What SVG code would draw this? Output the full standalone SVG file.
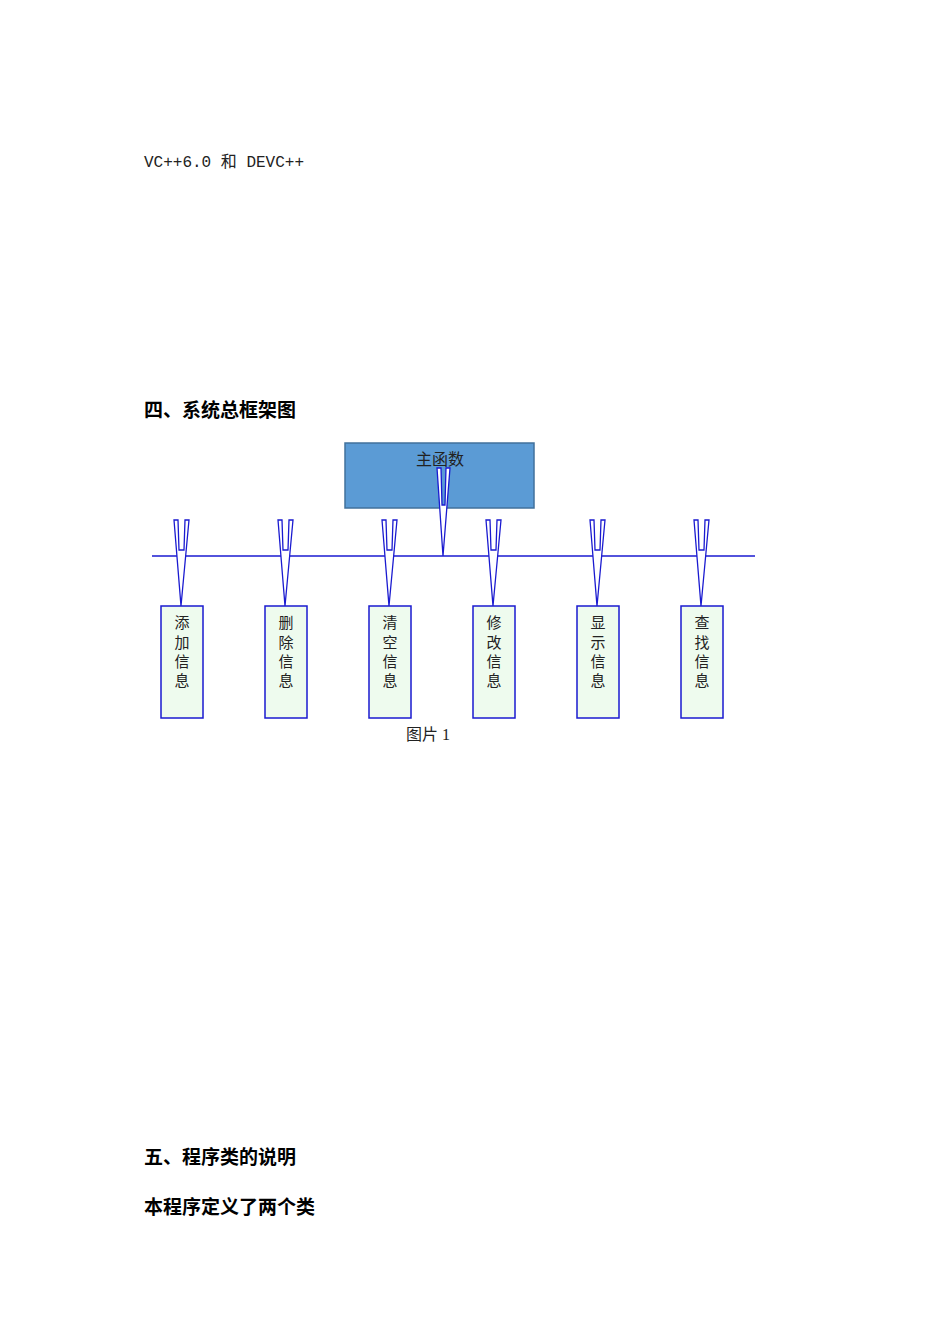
<svg xmlns="http://www.w3.org/2000/svg" width="950" height="1344" viewBox="0 0 950 1344">
<style>
.t{font-family:"Liberation Serif","Noto Sans CJK SC",serif;font-size:16px;fill:#222}
.h{font-family:"Noto Sans CJK SC",sans-serif;font-size:19px;font-weight:bold;fill:#000}
.b{fill:#eefbee;stroke:#1a1ad0;stroke-width:1.5}
.a{fill:#fff;stroke:#1a1ad0;stroke-width:1.3}
.v{font-family:"Noto Sans CJK SC",serif;font-size:15px;fill:#222;text-anchor:middle}
</style>
<rect width="950" height="1344" fill="#fff"/>
<text class="t" x="144" y="167" style="font-family:'Liberation Mono','Noto Sans CJK SC',monospace;font-size:16px">VC++6.0 和 DEVC++</text>
<text class="h" x="144" y="417">四、系统总框架图</text>
<text class="h" x="144" y="1164">五、程序类的说明</text>
<text class="h" x="144" y="1214">本程序定义了两个类</text>
<g id="main"><rect x="345" y="443" width="189" height="65" fill="#5b9bd5" stroke="#41719c" stroke-width="1.5"/><text class="v" x="440" y="465" style="font-size:16px">主函数</text></g>
<g id="connectors">
<line x1="152" y1="556" x2="755" y2="556" stroke="#1a1ad0" stroke-width="1.3"/>
<polygon class="a" points="437,468 441,468 442,505 445,505 446,468 450,468 443,556"/>
<polygon class="a" points="174,520 178,520 179,550 184,550 185,520 189,520 181,606"/>
<polygon class="a" points="278,520 282,520 283,550 288,550 289,520 293,520 285,606"/>
<polygon class="a" points="382,520 386,520 387,550 392,550 393,520 397,520 389,606"/>
<polygon class="a" points="486,520 490,520 491,550 496,550 497,520 501,520 493,606"/>
<polygon class="a" points="590,520 594,520 595,550 600,550 601,520 605,520 597,606"/>
<polygon class="a" points="694,520 698,520 699,550 704,550 705,520 709,520 701,606"/>
</g>
<g id="n1"><rect class="b" x="161" y="606" width="42" height="112"/><text class="v" x="182" y="628">添</text><text class="v" x="182" y="648">加</text><text class="v" x="182" y="667">信</text><text class="v" x="182" y="686">息</text></g>
<g id="n2"><rect class="b" x="265" y="606" width="42" height="112"/><text class="v" x="286" y="628">删</text><text class="v" x="286" y="648">除</text><text class="v" x="286" y="667">信</text><text class="v" x="286" y="686">息</text></g>
<g id="n3"><rect class="b" x="369" y="606" width="42" height="112"/><text class="v" x="390" y="628">清</text><text class="v" x="390" y="648">空</text><text class="v" x="390" y="667">信</text><text class="v" x="390" y="686">息</text></g>
<g id="n4"><rect class="b" x="473" y="606" width="42" height="112"/><text class="v" x="494" y="628">修</text><text class="v" x="494" y="648">改</text><text class="v" x="494" y="667">信</text><text class="v" x="494" y="686">息</text></g>
<g id="n5"><rect class="b" x="577" y="606" width="42" height="112"/><text class="v" x="598" y="628">显</text><text class="v" x="598" y="648">示</text><text class="v" x="598" y="667">信</text><text class="v" x="598" y="686">息</text></g>
<g id="n6"><rect class="b" x="681" y="606" width="42" height="112"/><text class="v" x="702" y="628">查</text><text class="v" x="702" y="648">找</text><text class="v" x="702" y="667">信</text><text class="v" x="702" y="686">息</text></g>
<text class="t" x="406" y="740">图片 1</text>
</svg>
